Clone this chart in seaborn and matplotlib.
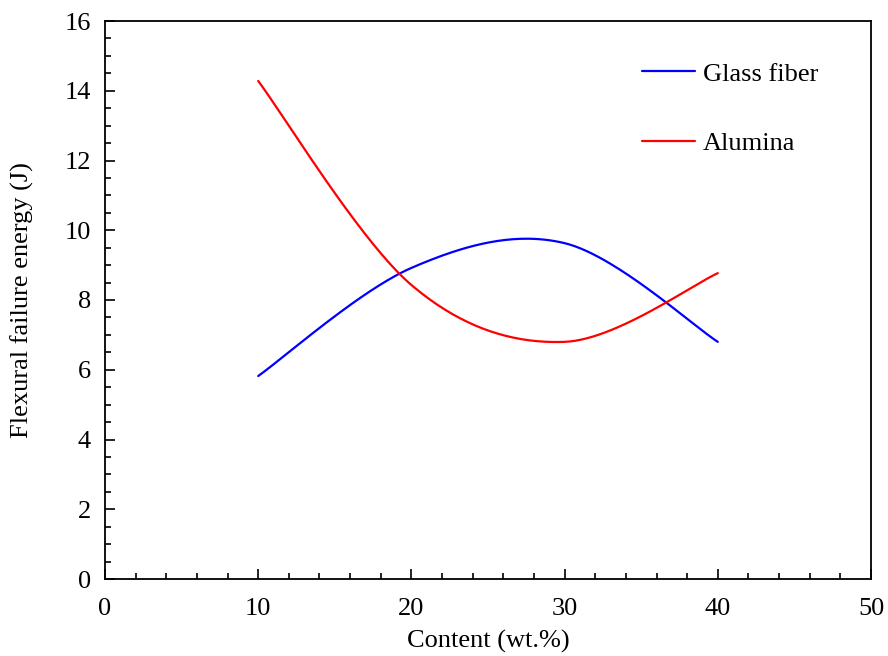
import numpy as np
import pandas as pd
import matplotlib
matplotlib.use("Agg")
import matplotlib.pyplot as plt
from matplotlib.ticker import MultipleLocator
import seaborn as sns

content = [10, 20, 30, 40]
glass_fiber = [5.82, 8.92, 9.63, 6.80]
alumina = [14.28, 8.43, 6.80, 8.77]
series_names = ["Glass fiber", "Alumina"]
series_colors = ["#0000ff", "#ff0000"]


def smooth(xs, ys, n=60):
    """Excel-like smoothed line (Catmull-Rom Bezier) through the data points."""
    xs = np.asarray(xs, float)
    ys = np.asarray(ys, float)
    P = np.column_stack([xs, ys])
    out = []
    m = len(P)
    for i in range(m - 1):
        p0 = P[i - 1] if i > 0 else P[i]
        p1 = P[i]
        p2 = P[i + 1]
        p3 = P[i + 2] if i + 2 < m else P[i + 1]
        c1 = p1 + (p2 - p0) / 6.0
        c2 = p2 - (p3 - p1) / 6.0
        t = np.linspace(0, 1, n, endpoint=(i == m - 2))[:, None]
        b = ((1 - t) ** 3) * p1 + 3 * ((1 - t) ** 2) * t * c1 + 3 * (1 - t) * t ** 2 * c2 + t ** 3 * p2
        out.append(b)
    B = np.vstack(out)
    return B[:, 0], B[:, 1]


frames = []
for name, vals in zip(series_names, [glass_fiber, alumina]):
    sx, sy = smooth(content, vals)
    frames.append(pd.DataFrame({"x": sx, "y": sy, "series": name, "order": np.arange(len(sx))}))
df = pd.concat(frames, ignore_index=True)

sns.set_theme(style="white")
plt.rcParams["font.family"] = ["Liberation Serif", "DejaVu Serif"]
plt.rcParams["text.color"] = "black"
plt.rcParams["axes.labelcolor"] = "black"
plt.rcParams["xtick.color"] = "black"
plt.rcParams["ytick.color"] = "black"

FS = 19

fig = plt.figure(figsize=(8.88, 6.56), dpi=100)
ax = fig.add_axes([105 / 888, 1 - 579 / 656, (871 - 105) / 888, (579 - 21) / 656])

sns.lineplot(data=df, x="x", y="y", hue="series", palette=dict(zip(series_names, series_colors)),
             sort=False, estimator=None, units="series", linewidth=1.6, ax=ax, legend=True)

ax.set_xlim(0, 50)
ax.set_ylim(0, 16)
ax.xaxis.set_major_locator(MultipleLocator(10))
ax.xaxis.set_minor_locator(MultipleLocator(2))
ax.yaxis.set_major_locator(MultipleLocator(2))
ax.yaxis.set_minor_locator(MultipleLocator(0.5))
ax.tick_params(which="both", direction="in", colors="black", labelcolor="black", labelsize=FS,
               bottom=True, left=True, top=False, right=False, width=1.2)
ax.tick_params(which="major", length=7)
ax.tick_params(which="minor", length=4)
ax.tick_params(axis="x", which="major", pad=14)
ax.tick_params(axis="y", which="major", pad=10)
for s in ax.spines.values():
    s.set_color("black")
    s.set_linewidth(1.3)

ax.set_xlabel("Content (wt.%)", fontsize=FS, color="black", labelpad=7)
ax.set_ylabel("Flexural failure energy (J)", fontsize=FS, color="black", labelpad=22)

leg = ax.legend(loc="upper left", bbox_to_anchor=(0.670, 0.969), frameon=False, fontsize=FS,
                handlelength=2.0, handletextpad=0.3, labelspacing=1.75, title=None)
for line in leg.get_lines():
    line.set_linewidth(1.6)
for t in leg.get_texts():
    t.set_color("black")

fig.savefig("out.png", dpi=100)
